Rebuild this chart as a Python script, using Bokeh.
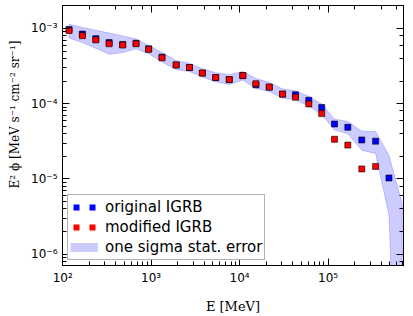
from bokeh.plotting import figure
from bokeh.models import (LogAxis, LogTicker, CustomJSTickFormatter, Legend,
                          LegendItem, Range1d)
from bokeh.embed import file_html
from bokeh.resources import INLINE

# Energy bin centres [MeV]
energy = [118, 167, 237, 335, 477, 675, 938, 1327, 1918, 2713, 3795, 5367, 7637,
          10877, 15297, 21633, 30594, 42849, 60597, 84853, 118322, 167332, 240831,
          344819, 488262, 689638]

# E^2 phi  [MeV s^-1 cm^-2 sr^-1]
original_igrb = [9.65e-4, 8.41e-4, 7.31e-4, 6.48e-4, 6.12e-4, 6.35e-4, 5.35e-4, 4.15e-4,
                 3.27e-4, 3.02e-4, 2.55e-4, 2.22e-4, 2.09e-4, 2.36e-4, 1.78e-4, 1.66e-4,
                 1.34e-4, 1.31e-4, 1.11e-4, 8.91e-5, 5.37e-5, 4.86e-5, 3.30e-5, 3.18e-5,
                 1.03e-5]
modified_igrb = [9.37e-4, 8.00e-4, 7.03e-4, 6.25e-4, 6.00e-4, 6.25e-4, 5.27e-4, 4.06e-4,
                 3.27e-4, 3.02e-4, 2.55e-4, 2.22e-4, 2.09e-4, 2.36e-4, 1.84e-4, 1.66e-4,
                 1.34e-4, 1.22e-4, 9.93e-5, 7.38e-5, 3.37e-5, 2.82e-5, 1.36e-5, 1.47e-5]
sigma_upper = [1.133e-3, 1.030e-3, 9.42e-4, 8.67e-4, 7.93e-4, 7.25e-4, 5.94e-4, 4.78e-4,
               3.72e-4, 3.44e-4, 2.90e-4, 2.58e-4, 2.43e-4, 2.68e-4, 2.16e-4, 1.91e-4,
               1.57e-4, 1.48e-4, 1.25e-4, 9.94e-5, 6.23e-5, 5.81e-5, 4.32e-5, 4.28e-5,
               2.05e-5, 4.72e-6]
sigma_lower = [7.47e-4, 6.49e-4, 5.43e-4, 4.54e-4, 4.78e-4, 5.35e-4, 4.61e-4, 3.58e-4,
               2.84e-4, 2.68e-4, 2.27e-4, 1.95e-4, 1.80e-4, 2.06e-4, 1.60e-4, 1.45e-4,
               1.19e-4, 1.13e-4, 9.28e-5, 7.23e-5, 4.49e-5, 3.98e-5, 2.41e-5, 2.18e-5,
               3.33e-6, 1e-10]

legend_labels = ["original IGRB", "modified IGRB", "one sigma stat. error"]
x_title = "E [MeV]"
y_title = "E\u00b2 \u03d5 [MeV s\u207b\u00b9 cm\u207b\u00b2 sr\u207b\u00b9]"

W, H = 413, 316
p = figure(width=W, height=H, x_axis_type="log", y_axis_type="log",
           x_range=Range1d(99.5, 7.13e5), y_range=Range1d(10**-6.149, 10**-2.696),
           output_backend="svg", toolbar_location=None,
           min_border_left=62, min_border_right=10, min_border_top=5, min_border_bottom=44)
p.grid.visible = False
p.outline_line_color = "black"
p.outline_line_width = 1
p.background_fill_color = "white"
p.border_fill_color = "white"

sup_js = """
const sup = {"-":"\\u207b","0":"\\u2070","1":"\\u00b9","2":"\\u00b2","3":"\\u00b3",
             "4":"\\u2074","5":"\\u2075","6":"\\u2076","7":"\\u2077","8":"\\u2078","9":"\\u2079"};
const e = Math.round(Math.log10(tick));
return "10" + String(e).split("").map(c => sup[c]).join("");
"""
blank_js = 'return "";'

def style_axis(ax, labels=True):
    ax.major_tick_in = 7
    ax.major_tick_out = 0
    ax.minor_tick_in = 4
    ax.minor_tick_out = 0
    ax.axis_line_color = "black"
    ax.major_tick_line_color = "black"
    ax.minor_tick_line_color = "black"
    if labels:
        ax.formatter = CustomJSTickFormatter(code=sup_js)
        ax.major_label_text_font = "DejaVu Sans"
        ax.major_label_text_font_size = "12px"
        ax.major_label_text_color = "black"
        ax.major_label_standoff = 5
        ax.axis_label_text_font = "DejaVu Serif"
        ax.axis_label_text_font_style = "normal"
        ax.axis_label_text_color = "black"
    else:
        ax.formatter = CustomJSTickFormatter(code=blank_js)
        ax.major_label_standoff = 0
        ax.major_label_text_font_size = "1px"

xa = p.xaxis[0]
ya = p.yaxis[0]
style_axis(xa)
style_axis(ya)
xa.axis_label = x_title
xa.axis_label_text_font_size = "13px"
xa.axis_label_standoff = 11
# leading no-break spaces shift the title upward like in the reference
ya.axis_label = "\u00a0" * 11 + y_title
ya.axis_label_text_font_size = "12px"
ya.axis_label_standoff = 6

top_axis = LogAxis(ticker=LogTicker())
style_axis(top_axis, labels=False)
p.add_layout(top_axis, "above")
right_axis = LogAxis(ticker=LogTicker())
style_axis(right_axis, labels=False)
p.add_layout(right_axis, "right")

band = p.patch(x=energy + energy[::-1], y=sigma_upper + sigma_lower[::-1],
               fill_color="blue", fill_alpha=0.2, line_color="blue", line_alpha=0.2,
               line_width=1)
n_o = len(original_igrb)
n_m = len(modified_igrb)
rb = p.scatter(x=energy[:n_o], y=original_igrb, marker="square", size=6,
               fill_color="#0000ff", line_color="black", line_width=0.6)
rr = p.scatter(x=energy[:n_m], y=modified_igrb, marker="square", size=6,
               fill_color="#ff0000", line_color="black", line_width=0.6)

# legend glyphs in matplotlib style (two markers / flat patch); not drawn in the plot
nan = float("nan")
lb = p.line(x=[energy[0]], y=[nan], line_color="#0000ff", line_width=6,
            line_dash="6 10", line_dash_offset=13)
lr = p.line(x=[energy[0]], y=[nan], line_color="#ff0000", line_width=6,
            line_dash="6 10", line_dash_offset=13)
lband = p.line(x=[energy[0]], y=[nan], line_color="#ccccff", line_width=9)

legend = Legend(items=[LegendItem(label=legend_labels[0], renderers=[lb]),
                       LegendItem(label=legend_labels[1], renderers=[lr]),
                       LegendItem(label=legend_labels[2], renderers=[lband])],
                location="bottom_left", margin=5, padding=2, spacing=0,
                label_height=20, glyph_height=20, glyph_width=28, label_standoff=7,
                label_text_font="DejaVu Sans", label_text_font_size="15px",
                label_text_line_height=0.9,
                label_text_color="black",
                border_line_color="#666666", border_line_width=1.5,
                background_fill_color="white", background_fill_alpha=1.0)
p.add_layout(legend)

open("out.html", "w").write(file_html(p, INLINE))
